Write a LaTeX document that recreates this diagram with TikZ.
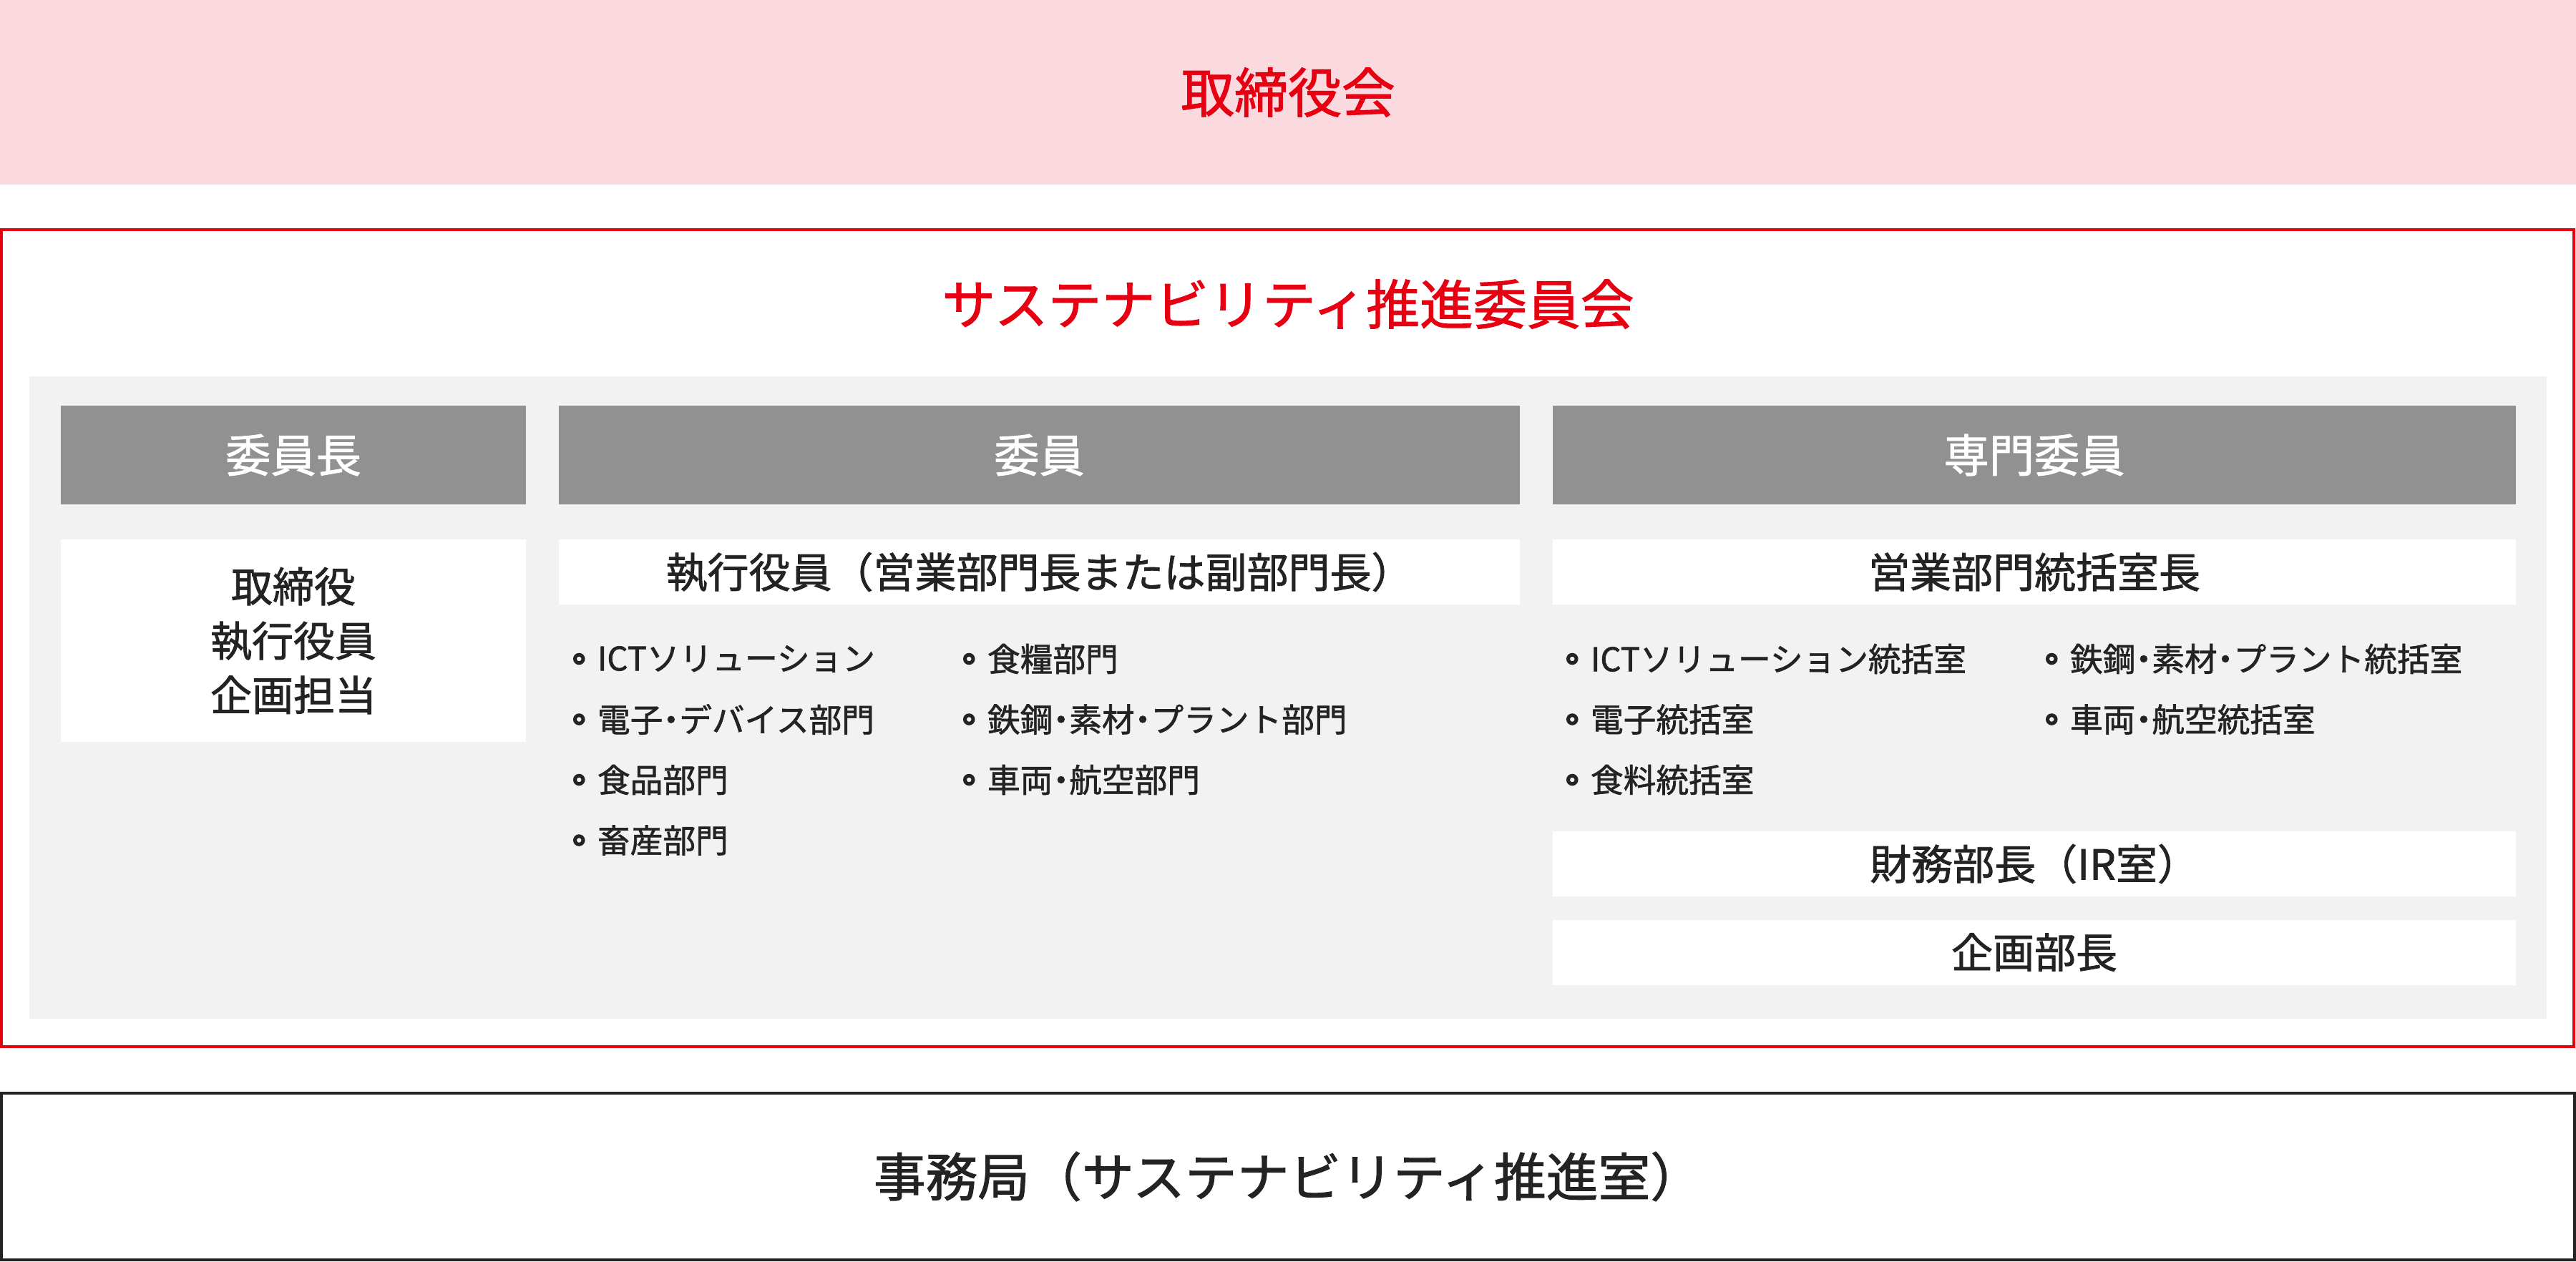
\documentclass[tikz,border=0pt]{standalone}
\usepackage{fontspec}
\setmainfont[FakeBold=1.4]{Noto Sans CJK JP}
\usetikzlibrary{positioning}
\definecolor{sred}{RGB}{230,0,18}
\definecolor{spink}{RGB}{250,218,222}
\definecolor{shead}{RGB}{145,145,145}
\definecolor{spanel}{RGB}{242,242,242}
\definecolor{stext}{RGB}{35,35,35}
\newcommand\nkg{{\addfontfeature{RawFeature=+palt}・}}

\begin{document}
\begin{tikzpicture}[x=1mm, y=-1mm, node distance = 4.9mm and 4.6mm,
  nodes = {inner sep=0pt, outer sep=0pt, text=stext},
  title/.style = {text=sred, font=\fontsize{21.3}{26}\selectfont},
  hdr/.style = {fill=shead, minimum height=13.8mm, text=white,
    font=\fontsize{18}{22}\selectfont},
  box/.style = {fill=white, minimum height=9.1mm,
    font=\fontsize{16.5}{21.6}\selectfont},
  item/.style = {anchor=west, font=\fontsize{13}{16}\selectfont},
  dot/.style = {circle, draw=stext, line width=0.5mm, minimum size=1.15mm}
  ]
  \useasboundingbox (0,0) rectangle (360,176.4);

  \node[fill=spink, minimum width=360mm, minimum height=25.8mm, title]
    (board) at (180,12.9) {取締役会};

  \node[draw=sred, line width=0.35mm, minimum width=359.5mm,
    minimum height=114.2mm] (committee) at (179.95,89.2) {};
  \node[title] (ctitle) at (180,42.5) {サステナビリティ推進委員会};
  \node[fill=spanel, minimum width=351.8mm, minimum height=89.8mm]
    (panel) at (180,97.5) {};

  \node[hdr, minimum width=65mm] (chair) at (41,63.6) {委員長};
  \node[hdr, minimum width=134.3mm, right=of chair] (member) {委員};
  \node[hdr, minimum width=134.6mm, right=of member] (expert) {専門委員};

  \node[box, minimum width=65mm, minimum height=28.3mm, align=center,
    below=of chair] (chairbox) {取締役\\執行役員\\企画担当};
  \node[box, minimum width=134.3mm, below=of member]
    (execbox) {執行役員（営業部門長または副部門長）};
  \node[box, minimum width=134.6mm, below=of expert]
    (salesbox) {営業部門統括室長};
  \node[box, minimum width=134.6mm, below=31.7mm of salesbox]
    (finbox) {財務部長（IR室）};
  \node[box, minimum width=134.6mm, below=3.25mm of finbox]
    (planbox) {企画部長};

  \foreach \t [count=\i] in {ICTソリューション, 電子\nkg デバイス部門, 食品部門, 畜産部門}
  {
    \node[item] (ma\i) at (83.5,83.65+8.45*\i) {\t};
    \node[dot, left=2mm of ma\i] (da\i) {};
  }
  \foreach \t [count=\i] in {食糧部門, 鉄鋼\nkg 素材\nkg プラント部門, 車両\nkg 航空部門}
  {
    \node[item] (mb\i) at (138,83.65+8.45*\i) {\t};
    \node[dot, left=2mm of mb\i] (db\i) {};
  }
  \foreach \t [count=\i] in {ICTソリューション統括室, 電子統括室, 食料統括室}
  {
    \node[item] (ea\i) at (222.3,83.65+8.45*\i) {\t};
    \node[dot, left=2mm of ea\i] (fa\i) {};
  }
  \foreach \t [count=\i] in {鉄鋼\nkg 素材\nkg プラント統括室, 車両\nkg 航空統括室}
  {
    \node[item] (eb\i) at (289.3,83.65+8.45*\i) {\t};
    \node[dot, left=2mm of eb\i] (fb\i) {};
  }

  \node[draw=stext, line width=0.33mm, minimum width=359.6mm,
    minimum height=23.3mm, font=\fontsize{20.7}{25}\selectfont]
    (office) at (180,164.45) {事務局（サステナビリティ推進室）};
\end{tikzpicture}
\end{document}
